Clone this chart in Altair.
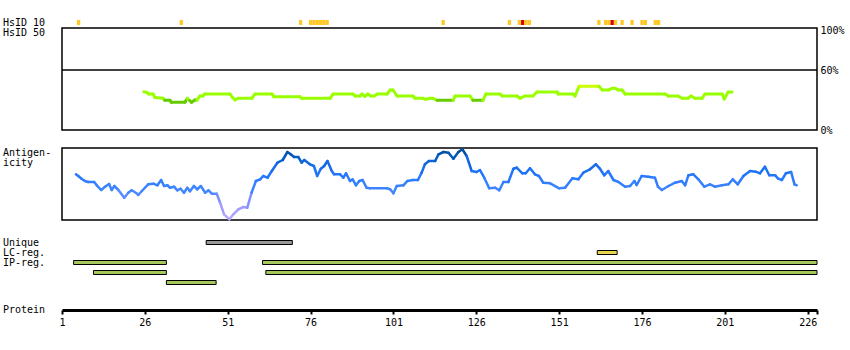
import altair as alt
import pandas as pd

FONT = "DejaVu Sans Mono"
P_START = 1
P_END = 228.8
HSID_MAX = 102
AG_MAX = 72

# ---- HsID 10 squares (residue positions) ----
hs10_pos = [6, 37, 73, 76, 77, 78, 79, 80, 81, 116, 136, 139, 140, 141, 142,
            163, 165, 166, 167, 168, 170, 173, 176, 177, 180, 181]
hs10_red = [140, 167]

# ---- HsID 50 identity line (%), residue positions ----
hsid_pos = [25.7, 26.6, 27.2, 28.5, 29.0, 31.5, 32.0, 33.6, 34.0, 38.1, 38.8, 39.5, 40.1,
            41.1, 41.7, 42.6, 43.5, 44.0, 51.7, 52.4, 53.2, 54.1, 58.3, 59.2, 64.4, 64.9,
            72.8, 73.3, 81.9, 82.8, 88.8, 89.4, 90.9, 91.5, 92.4, 93.3, 94.2, 95.2, 96.1,
            99.1, 100.0, 100.9, 102.1, 106.9, 107.5, 109.9, 110.8, 112.0, 112.9, 114.2,
            119.0, 119.6, 124.1, 125.0, 128.0, 128.9, 133.2, 133.8, 138.3, 139.2, 140.7,
            143.1, 144.3, 150.4, 150.7, 155.2, 155.8, 157.0, 163.0, 164.0, 165.8, 167.0,
            167.9, 168.8, 170.0, 170.9, 183.0, 183.9, 186.9, 188.1, 189.9, 190.8, 192.0,
            194.1, 195.0, 200.2, 200.8, 202.0, 203.2]
hsid_val = [38.3, 37.5, 36, 36, 32.5, 31.7, 29.7, 29.7, 27.7, 27.7, 31.7, 29.5, 27.7,
            30, 30, 34, 34, 36, 36, 32.7, 30, 31.7, 31.7, 36, 36, 33.3,
            33.3, 31.7, 31.7, 36, 36, 34, 34, 36, 33.5, 36, 34, 34, 36,
            36, 40, 40, 34, 34, 31.7, 31.7, 30.7, 31.7, 31.7, 29.7,
            29.7, 34, 34, 29.7, 29.7, 36, 36, 34, 34, 31.7, 34,
            34, 38, 38, 36, 36, 34, 43.7, 43.7, 40, 40, 41.7,
            41.7, 40, 40, 36, 36, 34, 34, 31.7, 31.7, 34, 31.7,
            31.7, 36, 36, 31, 38, 38]

# ---- Antigenicity ----
ag_pos = [5.2, 5.9, 6.9, 7.9, 8.9, 10.7, 11.5, 12.8, 14.0, 15.2, 16.0, 16.8, 18.0, 19.8,
          21.0, 22.0, 23.5, 24.0, 25.1, 27.0, 28.6, 29.8, 30.9, 31.8, 32.8, 33.6, 34.8,
          35.8, 36.8, 37.8, 38.8, 39.6, 40.8, 41.8, 42.9, 44.2, 45.2, 46.2, 47.7, 48.7,
          49.9, 51.5, 52.7, 54.2, 55.7, 56.9, 58.2, 59.5, 60.8, 61.7, 63.0, 64.3, 66.0,
          67.6, 69.0, 70.0, 71.0, 72.3, 73.3, 74.1, 75.8, 77.0, 78.0, 79.1, 80.1, 81.1,
          82.4, 83.1, 84.9, 85.9, 86.7, 87.9, 88.7, 89.7, 90.7, 91.7, 92.9, 93.9, 99.0,
          100.0, 101.0, 102.0, 104.0, 105.2, 106.9, 108.4, 109.5, 110.5, 111.7, 113.6,
          114.6, 116.1, 117.6, 119.1, 120.6, 121.8, 123.1, 124.6, 126.1, 127.1, 128.4,
          129.9, 131.7, 132.9, 134.2, 135.7, 137.2, 138.2, 139.9, 140.9, 142.2, 143.7,
          144.9, 146.2, 148.3, 151.0, 152.8, 155.0, 156.8, 158.3, 160.3, 162.1, 163.3,
          164.6, 165.8, 167.4, 168.9, 170.9, 172.4, 173.7, 174.4, 175.9, 177.9, 179.9,
          180.8, 182.0, 184.0, 186.0, 188.0, 189.0, 190.0, 191.5, 193.0, 194.8, 196.5,
          198.0, 200.1, 202.1, 203.4, 204.9, 206.6, 208.6, 210.3, 211.6, 213.1, 214.4,
          216.2, 217.0, 218.2, 219.4, 221.0, 222.0, 222.7]
ag_val = [45.7, 44, 41.3, 39, 38, 38, 34.7, 30, 33.3, 36, 30, 34, 30, 22.3,
          27.3, 29.7, 26.7, 25, 29, 35.7, 36.3, 34.7, 40, 34, 34.7, 32.3, 33.3,
          29.7, 31.3, 27.3, 32.3, 28.7, 34, 30.7, 34, 27.3, 29.7, 26.3, 26.3, 17.3,
          5.7, 0.7, 5.7, 10.7, 13, 12.3, 27.3, 39, 40.7, 44, 42.3, 49, 57.3,
          60, 68, 65.7, 63, 63, 57.3, 60, 55.7, 54, 44, 51.3, 54, 59,
          49, 45.7, 45.7, 42.3, 46.7, 39, 40.7, 34.7, 39, 40, 32.3, 31.7, 31.7,
          30.7, 26.7, 34, 34.7, 39, 40, 40, 47.3, 55.7, 59, 59,
          65.7, 68, 67.3, 61.3, 68, 70.7, 64, 49, 48, 50, 42.3,
          31.7, 32.3, 29.7, 38, 38, 51.3, 52.3, 46.7, 46.7, 51.7, 45.7,
          44, 37.3, 36.7, 31.7, 32.3, 41.7, 40.7, 47.3, 50.7, 55.7, 51.3,
          44.7, 49, 40, 38, 33.3, 34, 39, 35, 44, 43.3, 42.3,
          33.3, 30, 34, 37.3, 39, 34.7, 44.7, 45.7, 40.7, 33.3, 35.7,
          33.3, 34.7, 35.7, 40.7, 35.7, 44, 49, 48.3, 46.7, 53.3, 44.7,
          44.7, 41.7, 40, 46.7, 48, 35.7, 34.7]

# ---- Feature tracks ----
track_row = ["unique", "lc", "ip1", "ip1", "ip2", "ip2", "ip3"]
track_kind = ["Unique", "LC-reg.", "IP-reg.", "IP-reg.", "IP-reg.", "IP-reg.", "IP-reg."]
track_start = [44.5, 162.5, 4.5, 61.5, 10.5, 62.5, 32.5]
track_end = [70.5, 168.5, 32.5, P_END, 32.5, P_END, 47.5]

tick_values = [1, 26, 51, 76, 101, 126, 151, 176, 201, 226]

# ---------------------------------------------------------------
xscale = alt.Scale(domain=[P_START, P_END], nice=False, zero=False)
xaxis = alt.Axis(
    values=tick_values + [P_END],
    labelExpr="datum.value > 227 ? '' : format(datum.value, 'd')",
    tickSize=4, tickWidth=2, tickColor="black",
    domainWidth=3, domainColor="black",
    labelFont=FONT, labelFontSize=10, labelColor="black", labelPadding=3,
    labelFlush=False, grid=False, title=None,
)


def X(field):
    return alt.X(f"{field}:Q", scale=xscale, axis=xaxis)


hs_scale = alt.Scale(domain=[0, HSID_MAX], range=[130, 28], nice=False, zero=False)
ag_scale = alt.Scale(domain=[0, AG_MAX], range=[220, 148], nice=False, zero=False)

# HsID 10 squares
hs10_df = pd.DataFrame({
    "p": hs10_pos,
    "level": ["top" if p in hs10_red else "hit" for p in hs10_pos],
    "row": ["HsID 10"] * len(hs10_pos),
})
squares = alt.Chart(hs10_df).transform_calculate(
    p0="datum.p - 0.5", p1="datum.p + 0.5"
).mark_rect(opacity=1, fillOpacity=1).encode(
    x=X("p0"), x2=alt.X2("p1"),
    y=alt.Y("row:N", scale=alt.Scale(domain=["HsID 10"], range=[20, 25],
                                     paddingInner=0, paddingOuter=0), axis=None),
    color=alt.Color("level:N", scale=alt.Scale(domain=["hit", "top"],
                                               range=["#ffc825", "#dd0000"]), legend=None),
)

# HsID frame + 60% rule + line
hs_frame_df = pd.DataFrame({"x0": [P_START], "x1": [P_END], "y0": [0], "y1": [HSID_MAX]})
hs_frame = alt.Chart(hs_frame_df).mark_rect(fillOpacity=0, stroke="black", strokeWidth=1.5).encode(
    x=X("x0"), x2=alt.X2("x1"),
    y=alt.Y("y0:Q", scale=hs_scale, axis=None), y2=alt.Y2("y1"),
)
hs_rule_df = pd.DataFrame({"x0": [P_START], "x1": [P_END], "v": [60]})
hs_rule = alt.Chart(hs_rule_df).mark_rule(color="black", strokeWidth=1.5).encode(
    x=X("x0"), x2=alt.X2("x1"),
    y=alt.Y("v:Q", scale=hs_scale,
            axis=alt.Axis(orient="right", values=[0, 60, 100], labelExpr="datum.value + '%'",
                          ticks=False, domain=False, tickSize=0, labelPadding=3,
                          labelFont=FONT, labelFontSize=10, labelColor="black",
                          labelFlush=False, grid=False, title=None)),
)
hs_df = pd.DataFrame({"p": hsid_pos, "v": hsid_val})
hs_line = alt.Chart(hs_df).transform_window(
    p2="lead(p)", v2="lead(v)", sort=[alt.SortField("p", order="ascending")]
).transform_filter("isValid(datum.p2)").transform_calculate(
    vm="(datum.v + datum.v2) / 2"
).mark_rule(strokeWidth=3, strokeCap="round", opacity=1).encode(
    x=X("p"), x2=alt.X2("p2"),
    y=alt.Y("v:Q", scale=hs_scale, axis=None), y2=alt.Y2("v2"),
    color=alt.Color("vm:Q", scale=alt.Scale(type="threshold", domain=[30.6, 42.5],
                                            range=["#66cc00", "#99ff00", "#ccff00"]),
                    legend=None),
)

# Antigenicity frame + line
ag_frame_df = pd.DataFrame({"x0": [P_START], "x1": [P_END], "y0": [0], "y1": [AG_MAX]})
ag_frame = alt.Chart(ag_frame_df).mark_rect(fillOpacity=0, stroke="black", strokeWidth=1.5).encode(
    x=X("x0"), x2=alt.X2("x1"),
    y=alt.Y("y0:Q", scale=ag_scale, axis=None), y2=alt.Y2("y1"),
)
ag_df = pd.DataFrame({"p": ag_pos, "a": ag_val})
ag_line = alt.Chart(ag_df).transform_window(
    p2="lead(p)", a2="lead(a)", sort=[alt.SortField("p", order="ascending")]
).transform_filter("isValid(datum.p2)").transform_calculate(
    am="(datum.a + datum.a2) / 2"
).mark_rule(strokeWidth=2.5, strokeCap="round", opacity=1).encode(
    x=X("p"), x2=alt.X2("p2"),
    y=alt.Y("a:Q", scale=ag_scale, axis=None), y2=alt.Y2("a2"),
    color=alt.Color("am:Q", scale=alt.Scale(
        domain=[0, 15, 28, 45, 58, 70],
        range=["#bbaaff", "#9999ff", "#4488ff", "#2277ff", "#1166dd", "#004a99"]),
        legend=None),
)

# Feature tracks
tr_df = pd.DataFrame({"row": track_row, "kind": track_kind,
                      "start": track_start, "end": track_end})
tracks = alt.Chart(tr_df).mark_rect(stroke="black", strokeWidth=1, opacity=1, fillOpacity=1).encode(
    x=X("start"), x2=alt.X2("end"),
    y=alt.Y("row:N", scale=alt.Scale(domain=["unique", "lc", "ip1", "ip2", "ip3"],
                                     range=[237.5, 287.5], paddingInner=0.6,
                                     paddingOuter=0.3), axis=None),
    color=alt.Color("kind:N", scale=alt.Scale(domain=["Unique", "LC-reg.", "IP-reg."],
                                              range=["#999999", "#e8d44d", "#a4c85a"]),
                    legend=None),
)

dummy = pd.DataFrame({"k": [0]})


def label(txt, ypix):
    return alt.Chart(dummy).mark_text(
        align="left", baseline="alphabetic", font=FONT, fontSize=10, color="black"
    ).encode(x=alt.value(-59), y=alt.value(ypix), text=alt.value(txt))


labels = [
    label("HsID 10", 26), label("HsID 50", 36),
    label("Antigen-", 156), label("icity", 166),
    label("Unique", 246), label("LC-reg.", 256), label("IP-reg.", 266),
    label("Protein", 313),
]

chart = alt.layer(
    squares, hs_frame, hs_rule, hs_line, ag_frame, ag_line, tracks, *labels
).resolve_scale(
    y="independent", color="independent"
).properties(
    width=755, height=310,
    autosize=alt.AutoSizeParams(type="none"),
    padding={"left": 62, "top": 0, "right": 33, "bottom": 40},
    background="white",
).configure_view(stroke=None)

chart.save("out.html", embed_options={"renderer": "svg", "actions": False})
